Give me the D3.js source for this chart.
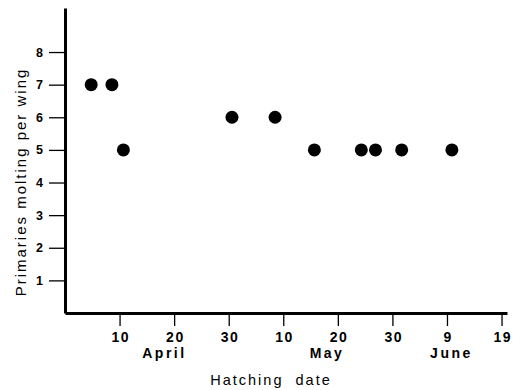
<!DOCTYPE html>
<html>
<head>
<meta charset="utf-8">
<script src="https://cdn.jsdelivr.net/npm/d3@7"></script>
<style>
  body { margin: 0; background: #fff; }
  text { font-family: "Liberation Sans", Arial, sans-serif; fill: #000; }
</style>
</head>
<body>
<svg id="chart" width="526" height="390"></svg>
<script>
// days counted from 0 April (so 10 = April 10, 40 = May 10, 70 = June 9)
var hatchDay = [4.8, 8.6, 10.7, 30.6, 38.5, 45.7, 54.3, 56.9, 61.7, 70.9];
var primaries = [7, 7, 5, 6, 6, 5, 5, 5, 5, 5];

var xTickDays = [10, 20, 30, 40, 50, 60, 70, 80];
var xTickLabels = ["10", "20", "30", "10", "20", "30", "9", "19"];
var monthNames = ["April", "May", "June"];
var monthDays = [18, 47.8, 70.6];
var yTicks = [1, 2, 3, 4, 5, 6, 7, 8];

var svg = d3.select("#chart");

var x = d3.scaleLinear().domain([0, 81]).range([65, 507]);
var y = d3.scaleLinear().domain([0, 9.35]).range([313, 8]);

// x axis
var xAxis = svg.append("g")
    .attr("transform", "translate(0," + 313 + ")")
    .call(d3.axisBottom(x)
        .tickValues(xTickDays)
        .tickFormat((d, i) => xTickLabels[i])
        .tickSize(13)
        .tickSizeOuter(0)
        .tickPadding(6));
xAxis.select(".domain").attr("stroke-width", 3);
xAxis.selectAll(".tick line").attr("stroke-width", 1.3);
xAxis.selectAll(".tick text")
    .attr("dx", "0.75px")
    .style("font-size", "14px")
    .style("font-weight", "bold")
    .style("letter-spacing", "1.5px")
    .style("font-family", "'Liberation Sans', Arial, sans-serif");

// y axis
var yAxis = svg.append("g")
    .attr("transform", "translate(" + 65 + ",0)")
    .call(d3.axisLeft(y)
        .tickValues(yTicks)
        .tickFormat(d3.format("d"))
        .tickSize(16)
        .tickSizeOuter(0)
        .tickPadding(6));
yAxis.select(".domain").attr("stroke-width", 3);
yAxis.selectAll(".tick line").attr("stroke-width", 1.3);
yAxis.selectAll(".tick text")
    .style("font-size", "12.5px")
    .style("font-weight", "bold")
    .style("font-family", "'Liberation Sans', Arial, sans-serif");

// month labels
svg.selectAll(".month")
    .data(monthNames)
    .enter().append("text")
    .attr("class", "month")
    .attr("x", (d, i) => x(monthDays[i]) + 1.2)
    .attr("y", 358)
    .attr("text-anchor", "middle")
    .style("font-size", "14px")
    .style("font-weight", "bold")
    .style("letter-spacing", "2.5px")
    .text(d => d);

// axis titles
svg.append("text")
    .attr("x", 271)
    .attr("y", 385)
    .attr("text-anchor", "middle")
    .style("font-size", "14.5px")
    .style("letter-spacing", "2px")
    .style("white-space", "pre")
    .text("Hatching  date");

svg.append("text")
    .attr("transform", "translate(26," + 182 + ") rotate(-90)")
    .attr("text-anchor", "middle")
    .style("font-size", "15px")
    .style("letter-spacing", "2px")
    .text("Primaries molting per wing");

// points
svg.selectAll(".dot")
    .data(hatchDay)
    .enter().append("circle")
    .attr("class", "dot")
    .attr("cx", d => x(d))
    .attr("cy", (d, i) => y(primaries[i]))
    .attr("r", 6.5)
    .attr("fill", "#000");
</script>
</body>
</html>
